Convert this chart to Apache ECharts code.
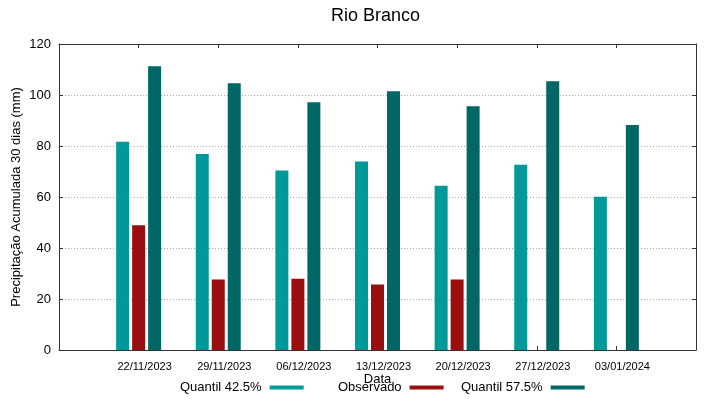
<!DOCTYPE html>
<html>
<head>
<meta charset="utf-8">
<script src="https://cdn.jsdelivr.net/npm/echarts@6/dist/echarts.min.js"></script>
<style>html,body{margin:0;padding:0;background:#fff}#c{width:719px;height:399px}</style>
</head>
<body>
<div id="c"></div>
<script>
var categories = ['', '22/11/2023', '29/11/2023', '06/12/2023', '13/12/2023', '20/12/2023', '27/12/2023', '03/01/2024', ''];
var quantil425 = [null, 81.7, 76.9, 70.4, 73.9, 64.4, 72.6, 60.1, null];
var observado = [null, 48.9, 27.6, 27.9, 25.7, 27.6, null, null, null];
var quantil575 = [null, 111.3, 104.6, 97.2, 101.5, 95.6, 105.4, 88.2, null];
var yTicks = [0, 20, 40, 60, 80, 100, 120];

var FONT = 'Liberation Sans, Arial, sans-serif';
var AX = '#333';
var chart = echarts.init(document.getElementById('c'));
function legend(name, left) {
  return {
    data: [name], left: left, top: 381, padding: 0, align: 'right',
    itemWidth: 34, itemHeight: 4, icon: 'rect',
    textStyle: {fontFamily: FONT, fontSize: 13, color: '#000', padding: [0, 3, 0, 0]}
  };
}
chart.setOption({
  animation: false,
  title: {text: 'Rio Branco', left: 331, top: 7, padding: 0,
    textStyle: {fontFamily: FONT, fontSize: 18, fontWeight: 'normal', color: '#000'}},
  legend: [legend('Quantil 42.5%', 180), legend('Observado', 338), legend('Quantil 57.5%', 461)],
  grid: {left: 59, right: 23, top: 44, bottom: 49, containLabel: false, outerBoundsMode: 'none'},
  xAxis: [{
    type: 'category', data: categories, boundaryGap: false,
    name: 'Data', nameLocation: 'middle', nameGap: 23, nameMoveOverlap: false,
    nameTextStyle: {fontFamily: FONT, fontSize: 13, color: '#000'},
    axisLine: {onZero: false, lineStyle: {color: AX}},
    axisTick: {inside: true, length: 4, lineStyle: {color: AX}},
    axisLabel: {fontFamily: FONT, fontSize: 11, color: '#000', margin: 11, padding: [0, 0, 0, 12], interval: 0},
    splitLine: {show: false}
  }, {
    type: 'category', data: categories, boundaryGap: false, position: 'top',
    axisLine: {show: true, onZero: false, lineStyle: {color: AX}},
    axisTick: {inside: true, length: 4, lineStyle: {color: AX}},
    axisLabel: {show: false}, splitLine: {show: false}
  }],
  yAxis: [{
    type: 'value', min: 0, max: 120, interval: 20,
    name: 'Precipitação Acumulada 30 dias (mm)', nameLocation: 'middle', nameGap: 36, nameMoveOverlap: false,
    nameTextStyle: {fontFamily: FONT, fontSize: 13, color: '#000'},
    axisLine: {show: true, onZero: false, lineStyle: {color: AX}},
    axisTick: {show: true, inside: true, length: 4, lineStyle: {color: AX}},
    axisLabel: {fontFamily: FONT, fontSize: 13, color: '#000', margin: 8,
      formatter: function (v) { return yTicks.indexOf(v) >= 0 ? String(v) : ''; }},
    splitLine: {show: true, lineStyle: {color: '#aaa', type: [1, 2], width: 1}}
  }, {
    type: 'value', min: 0, max: 120, interval: 20, position: 'right',
    axisLine: {show: true, onZero: false, lineStyle: {color: AX}},
    axisTick: {show: true, inside: true, length: 4, lineStyle: {color: AX}},
    axisLabel: {show: false}, splitLine: {show: false}
  }],
  series: [
    {name: 'Quantil 42.5%', type: 'bar', data: quantil425, barWidth: 13, barGap: '23%', itemStyle: {color: '#009999'}},
    {name: 'Observado', type: 'bar', data: observado, barWidth: 13, barGap: '23%', itemStyle: {color: '#990f0f'}},
    {name: 'Quantil 57.5%', type: 'bar', data: quantil575, barWidth: 13, barGap: '23%', itemStyle: {color: '#006666'}}
  ]
});
</script>
</body>
</html>
